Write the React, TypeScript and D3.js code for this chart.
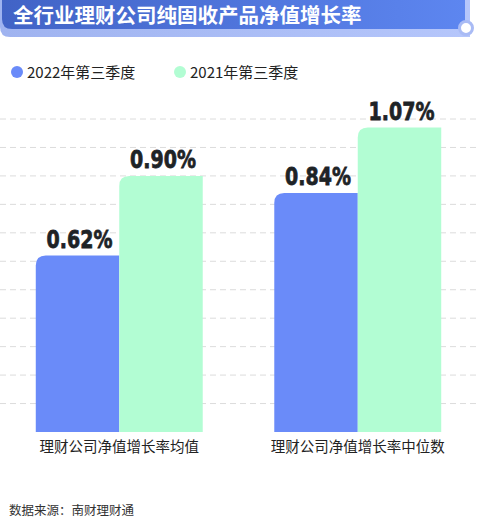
import React, { useEffect } from 'react';
import * as d3 from 'd3';

// chart data
const title = '全行业理财公司纯固收产品净值增长率';
const categories = ['理财公司净值增长率均值', '理财公司净值增长率中位数'];
const seriesNames = ['2022年第三季度', '2021年第三季度'];
const values2022 = [0.62, 0.84];
const values2021 = [0.90, 1.07];
const gridTicks = [0.1, 0.2, 0.3, 0.4, 0.5, 0.6, 0.7, 0.8, 0.9, 1.0, 1.1];
const source = '数据来源：南财理财通';

const W = 477;
const H = 528;
const colors = ['#6a8bf9', '#b2fdd3'];
const cjk = '"Noto Sans CJK SC", "Noto Sans", sans-serif';

// bar with only the top-left corner rounded
const barPath = (x: number, y: number, w: number, h: number, r: number) => {
  const rr = Math.min(r, h, w);
  return `M${x},${y + h}V${y + rr}Q${x},${y} ${x + rr},${y}H${x + w}V${y + h}Z`;
};

export default function App() {
  useEffect(() => {
    document.body.style.margin = '0';
  }, []);

  const y = d3.scaleLinear().domain([0, 1.1]).range([432, 119]);
  const x0 = d3.scaleBand<string>().domain(categories).range([0, W]).paddingInner(0.3).paddingOuter(0.15);
  const x1 = d3.scaleBand<string>().domain(seriesNames).range([0, x0.bandwidth()]);
  const series = [values2022, values2021];

  return (
    <svg width={W} height={H} style={{ display: 'block', background: '#fff' }}>
      <defs>
        <linearGradient id="titleGrad" x1="0" x2="1" y1="0" y2="0">
          <stop offset="0" stopColor="#4163c6" />
          <stop offset="1" stopColor="#5d86f0" />
        </linearGradient>
        <linearGradient id="bandGrad" x1="0" x2="1" y1="0" y2="0">
          <stop offset="0" stopColor="#9fb3f0" />
          <stop offset="1" stopColor="#b5c6fb" />
        </linearGradient>
      </defs>

      {/* title banner */}
      <path d={`M0,0H470V37H10Q0,37 0,27Z`} fill="url(#bandGrad)" />
      <path d={`M2,0H465V29H12Q2,29 2,19Z`} fill="url(#titleGrad)" />
      <circle cx={466} cy={28} r={6.5} fill="#fff" stroke="#a9bbf5" strokeWidth={3} />
      <text x={13} y={23} fill="#fff" fontFamily={cjk} fontWeight={600} fontSize={20.5}>{title}</text>

      {/* legend */}
      {seriesNames.map((s, i) => (
        <g key={s} transform={`translate(${i === 0 ? 17 : 180},72)`}>
          <circle r={6} fill={colors[i]} />
          <text x={10} y={5.5} fill="#222" fontFamily={cjk} fontSize={15}>{s}</text>
        </g>
      ))}

      {/* grid */}
      {gridTicks.map((t) => (
        <line key={t} x1={0} x2={W} y1={y(t)} y2={y(t)} stroke="#dcdcdc" strokeDasharray="6 4" />
      ))}

      {/* bars */}
      {categories.map((c, ci) => (
        <g key={c} transform={`translate(${x0(c)},0)`}>
          {seriesNames.map((s, si) => {
            const v = series[si][ci];
            const bx = x1(s)!;
            const bw = x1.bandwidth();
            return (
              <g key={s}>
                <path d={barPath(bx, y(v), bw, y(0) - y(v), 10)} fill={colors[si]} />
                <g transform={`translate(${bx + bw / 2 + 2},${y(v) - 8}) scale(0.76,1)`}>
                  <text
                    textAnchor="middle"
                    fill="#1e2326"
                    stroke="#1e2326"
                    strokeWidth={0.8}
                    fontFamily='"DejaVu Sans", sans-serif'
                    fontWeight={700}
                    fontSize={25}
                  >
                    {v.toFixed(2)}%
                  </text>
                </g>
              </g>
            );
          })}
          <text x={x0.bandwidth() / 2} y={452} textAnchor="middle" fill="#222" fontFamily={cjk} fontSize={14.5}>
            {c}
          </text>
        </g>
      ))}

      {/* source */}
      <text x={9} y={515} fill="#333" fontFamily={cjk} fontSize={12.5}>{source}</text>
    </svg>
  );
}
